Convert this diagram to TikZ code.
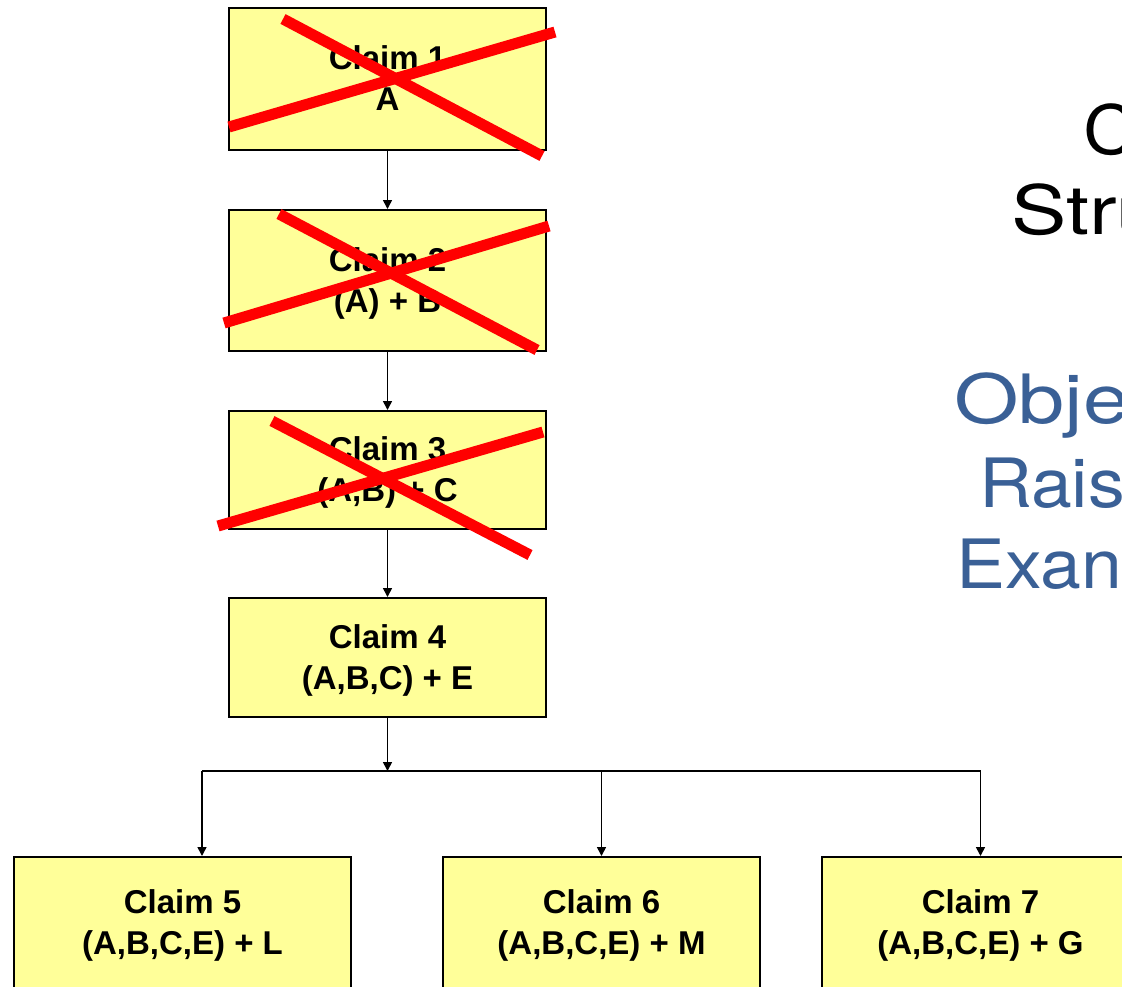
\documentclass[tikz,border=0pt]{standalone}
\usepackage{fontspec}
\setmainfont{Liberation Sans}
\newfontfamily\titlefont{TeX Gyre Heros}[FakeStretch=1.08]
\newfontfamily\titlefontwide{TeX Gyre Heros}[FakeStretch=1.22]
\usetikzlibrary{arrows.meta}
\definecolor{boxyellow}{RGB}{255,255,153}
\definecolor{crossred}{RGB}{255,0,0}
\definecolor{titleblue}{RGB}{58,96,150}
\begin{document}
\begin{tikzpicture}[x=1pt,y=-1pt,
  claimbox/.style={draw=black, line width=2pt, fill=boxyellow, inner sep=0pt,
    minimum width=317pt, align=center, text depth=1pt,
    font=\fontsize{33}{41}\selectfont\bfseries},
  arr/.style={line width=1.6pt, -{Triangle[length=9pt,width=9pt]}},
  crossline/.style={draw=crossred, line width=11pt},
  bigtext/.style={anchor=base west, inner sep=0pt, font=\titlefont\fontsize{68}{82}\selectfont},
  bigwide/.style={anchor=base west, inner sep=0pt, font=\titlefontwide\fontsize{68}{82}\selectfont}
]
\useasboundingbox (0,0) rectangle (1122,986);
\clip (0,0) rectangle (1122,986);

% boxes
\node[claimbox, minimum height=142pt] (b1) at (387.5,79) {Claim 1\\A};
\node[claimbox, minimum height=141pt] (b2) at (387.5,280.5) {Claim 2\\(A) + B};
\node[claimbox, minimum height=118pt] (b3) at (387.5,470) {Claim 3\\(A,B) + C};
\node[claimbox, minimum height=119pt] (b4) at (387.5,657.5) {Claim 4\\(A,B,C) + E};
\node[claimbox, minimum width=337pt, minimum height=132pt] (b5) at (182.5,923) {Claim 5\\(A,B,C,E) + L};
\node[claimbox, minimum height=132pt] (b6) at (601.5,923) {Claim 6\\(A,B,C,E) + M};
\node[claimbox, minimum height=132pt] (b7) at (980.5,923) {Claim 7\\(A,B,C,E) + G};

% connectors
\draw[arr] (b1) -- (b2);
\draw[arr] (b2) -- (b3);
\draw[arr] (b3) -- (b4);
\coordinate (busL) at (202,771);
\coordinate (busM) at (387.5,771);
\coordinate (busC) at (601.5,771);
\coordinate (busR) at (980.5,771);
\draw[arr] (b4) -- (busM);
\draw[line width=2.8pt] (busL) -- (busR);
\draw[arr] (busL) -- (busL |- b5.north);
\draw[arr] (busC) -- (b6);
\draw[arr] (busR) -- (b7);

% crosses
\draw[crossline] (283,19) -- (542,156);
\draw[crossline] (229,127) -- (555,32);
\draw[crossline] (279,214) -- (537,350);
\draw[crossline] (224,323) -- (549,226);
\draw[crossline] (272,421) -- (530,555);
\draw[crossline] (218,526) -- (543,432);

% right-hand title texts (cut off at the edge, as in the reference)
\node[bigtext] (t1) at (1083,154) {C};
\node[bigwide] (t2) at (1011,234) {Stru};
\node[bigwide, text=titleblue] (t3) at (954,423) {Obje};
\node[bigtext, text=titleblue] (t4) at (979,507) {Rais};
\node[bigtext, text=titleblue] (t5) at (956,588) {Exan};
\end{tikzpicture}
\end{document}
